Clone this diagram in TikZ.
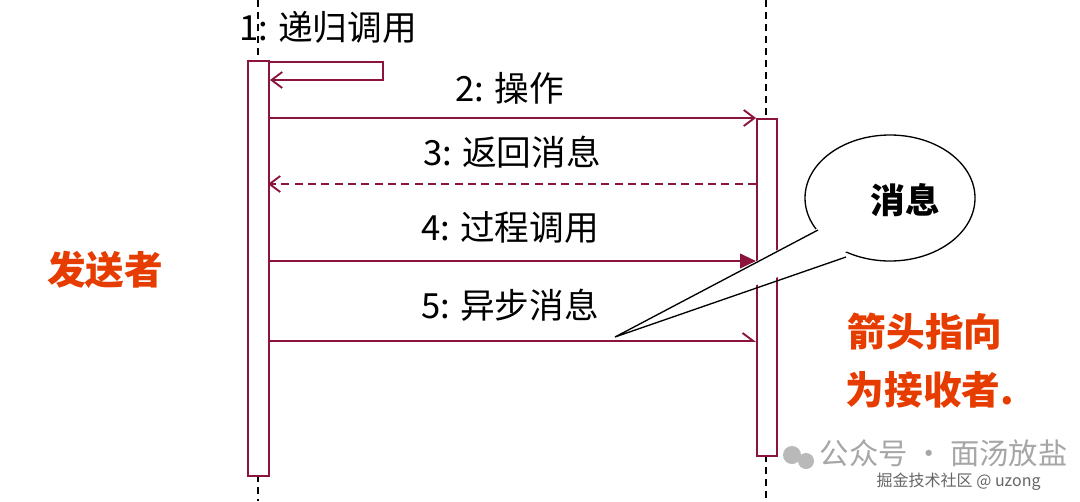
\documentclass[tikz,border=0pt]{standalone}
\usepackage{fontspec}
\setmainfont{Noto Sans CJK SC}
\usetikzlibrary{arrows.meta}
\definecolor{mline}{RGB}{140,20,60}
\definecolor{redtxt}{RGB}{230,60,0}
\tikzset{
  life/.style={black,dashed,line width=1.3pt,dash pattern=on 5pt off 4pt},
  actbox/.style={draw=mline,line width=1.4pt,fill=white},
  msg/.style={mline,line width=1.4pt},
  openarr/.style={-{Straight Barb[length=8pt,width=12pt]}},
  fillarr/.style={-{Triangle[length=12pt,width=11pt]}},
  halfarr/.style={-{Straight Barb[length=8pt,width=12pt,left]}},
  lbl/.style={font=\fontsize{26}{28}\selectfont},
  red/.style={text=redtxt,font=\fontsize{29}{32}\selectfont\bfseries}
}
\begin{document}
\begin{tikzpicture}[x=0.75pt,y=-0.75pt]
\useasboundingbox (0,0) rectangle (1080,501);
\fill[white] (0,0) rectangle (1080,501);
% lifelines
\draw[life] (258,0) -- (258,60);
\draw[life] (258,475) -- (258,501);
\draw[life] (766,0) -- (766,118);
\draw[life] (766,455) -- (766,501);
\node[actbox,minimum width=15.5pt,minimum height=311pt,inner sep=0,anchor=north west] (A) at (247,60) {};
\node[actbox,minimum width=15pt,minimum height=253pt,inner sep=0,anchor=north west] (B) at (756,118) {};
\coordinate (a1) at (268,62); \coordinate (s1) at (383,62); \coordinate (s2) at (383,80); \coordinate (a2) at (270,80);
\draw[msg,openarr] (a1) -- (s1) -- (s2) -- (a2);
\node[lbl] (l1) at (328,27) {1: 递归调用};
\coordinate (a3) at (268,118); \coordinate (b3) at (756,118);
\draw[msg,openarr] (a3) -- (b3);
\node[lbl] (l2) at (510,88) {2: 操作};
\coordinate (b4) at (756,184); \coordinate (a4) at (268,184);
\draw[msg,openarr,dashed,dash pattern=on 6pt off 4pt] (b4) -- (a4);
\node[lbl] (l3) at (512,152) {3: 返回消息};
\coordinate (a5) at (268,261); \coordinate (b5) at (756,261);
\draw[msg,fillarr] (a5) -- (b5);
\node[lbl] (l4) at (510,227) {4: 过程调用};
\coordinate (a6) at (268,341); \coordinate (b6) at (756,341);
\draw[msg,halfarr] (a6) -- (b6);
\node[lbl] (l5) at (510,305) {5: 异步消息};
% bubble
\draw[black,line width=1pt,fill=white] (890,198) ellipse [x radius=85, y radius=63];
\coordinate (tp) at (615,337);
\fill[white] (822,226) -- (tp) -- (846,252) -- (855,240) -- cycle;
\draw[black,line width=1pt] (818,230) -- (tp) -- (846,257);
\node[font=\fontsize{26}{28}\selectfont\bfseries] (bub) at (905,200) {消息};
\node[red] (snd) at (105,270) {发送者};
\node[red] (r1) at (925,332) {箭头指向};
\node[red] (r2) at (930,390) {为接收者.};
% watermark
\fill[gray!55] (792,455) circle (9);
\fill[gray!55] (806,461) circle (8);
\node[text=gray!70,font=\fontsize{22}{24}\selectfont,anchor=west] (wm) at (815,453) {公众号 · 面汤放盐};
\node[text=gray!80!black,font=\fontsize{12}{14}\selectfont,anchor=west] (wm2) at (872,482) {掘金技术社区 @ uzong};
\end{tikzpicture}
\end{document}
